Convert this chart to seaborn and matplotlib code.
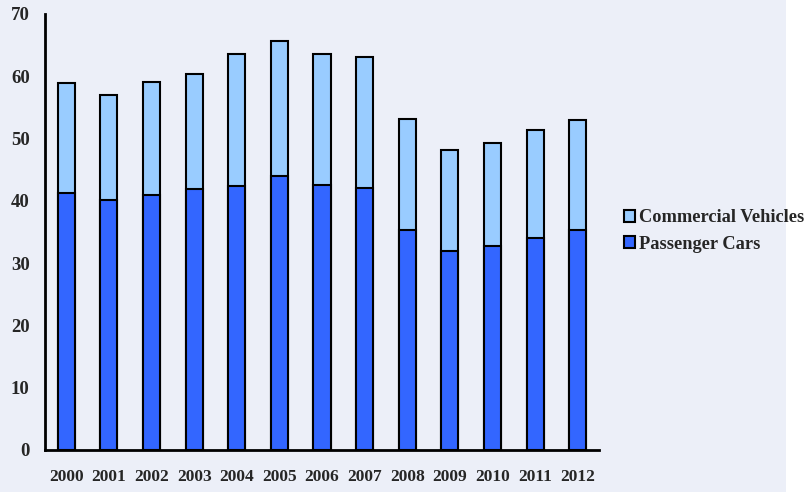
import matplotlib
matplotlib.use("Agg")
import matplotlib.pyplot as plt
import matplotlib.patches as mpatches
import seaborn as sns
import pandas as pd
import numpy as np

years = ["2000", "2001", "2002", "2003", "2004", "2005", "2006",
         "2007", "2008", "2009", "2010", "2011", "2012"]
passenger = [41.2, 40.1, 41.0, 41.9, 42.4, 44.0, 42.5, 42.1, 35.4, 31.9, 32.7, 34.1, 35.3]
commercial = [17.7, 16.9, 18.1, 18.5, 21.2, 21.7, 21.1, 21.0, 17.7, 16.3, 16.6, 17.2, 17.7]
yticks = [0, 10, 20, 30, 40, 50, 60, 70]

total = [p + c for p, c in zip(passenger, commercial)]
df = pd.DataFrame({"year": years, "passenger": passenger, "total": total})

BG = "#ECEFF8"
C_COM = "#99CCFF"
C_PAS = "#3366FF"

sns.set_style("white")
plt.rcParams["font.family"] = ["Liberation Serif", "DejaVu Serif"]
plt.rcParams["font.weight"] = "bold"

W, H = 808, 492
fig = plt.figure(figsize=(W / 100, H / 100), dpi=100)
fig.patch.set_facecolor("white")
fig.patches.append(mpatches.Rectangle((0, 0), 786 / W, 1, transform=fig.transFigure,
                                      facecolor=BG, edgecolor="none", zorder=-10))

ax = fig.add_axes([45 / W, (H - 450) / H, (599 - 45) / W, (450 - 14) / H])
ax.set_facecolor(BG)

sns.barplot(data=df, x="year", y="total", color=C_COM, width=0.4, ax=ax,
            edgecolor="black", linewidth=1.5, saturation=1)
sns.barplot(data=df, x="year", y="passenger", color=C_PAS, width=0.4, ax=ax,
            edgecolor="black", linewidth=1.5, saturation=1)

ax.set_xlim(-0.5, len(years) - 0.5)
ax.set_ylim(0, 70)
ax.set_yticks(yticks)
ax.set_yticklabels([str(t) for t in yticks], fontsize=13.5, fontweight="bold")
ax.set_xlabel("")
ax.set_ylabel("")
for lab in ax.get_xticklabels():
    lab.set_fontsize(12.5)
    lab.set_fontweight("bold")

ax.set_xticks(np.arange(-0.5, len(years), 1.0), minor=True)
ax.tick_params(axis="x", which="major", length=0, pad=14)
ax.tick_params(axis="x", which="minor", length=6, width=1.8, color="black", direction="out")
ax.tick_params(axis="y", which="major", length=6, width=1.8, color="black", direction="out", pad=5)

for s in ["top", "right"]:
    ax.spines[s].set_visible(False)
for s in ["left", "bottom"]:
    ax.spines[s].set_color("black")
    ax.spines[s].set_linewidth(2)

handles = [mpatches.Patch(facecolor=C_COM, edgecolor="black", linewidth=1.5, label="Commercial Vehicles"),
           mpatches.Patch(facecolor=C_PAS, edgecolor="black", linewidth=1.5, label="Passenger Cars")]
fig.legend(handles=handles, loc="center left", bbox_to_anchor=(617 / W, 1 - 231 / H),
           frameon=False, prop={"size": 13.2, "weight": "bold"}, handlelength=0.6,
           handleheight=0.6, handletextpad=0.2, labelspacing=0.5, borderaxespad=0)

fig.savefig("out.png", dpi=100, facecolor=fig.get_facecolor())
